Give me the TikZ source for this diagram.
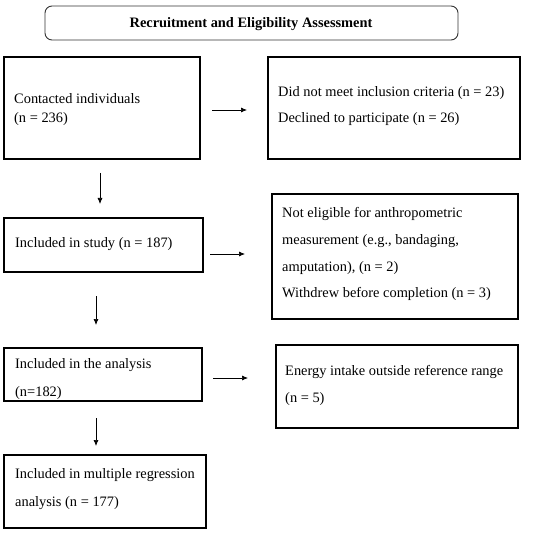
\documentclass[tikz,border=0pt]{standalone}
\usepackage{fontspec}
\setmainfont{Liberation Serif}
\usetikzlibrary{arrows.meta}
\begin{document}
\begin{tikzpicture}[x=1bp,y=-1bp,
  box/.style={draw=black,line width=1.4bp},
  txt/.style={anchor=base west,inner sep=0pt,font=\fontsize{14.4bp}{16bp}\selectfont},
  arr/.style={-{Latex[length=6bp,width=5bp]},line width=0.7bp}]
\useasboundingbox (0,0) rectangle (550,533);
% title
\draw[line width=0.9bp,draw=black!80,rounded corners=7bp] (45,6) rectangle (458,40);
\node[anchor=base,inner sep=0pt,font=\fontsize{14.4bp}{16bp}\selectfont\bfseries] (title) at (251,28) {Recruitment and Eligibility Assessment};
% boxes
\draw[box] (4,57) rectangle (200,159);
\draw[box] (268,57) rectangle (520,159);
\draw[box] (4,218) rectangle (203,272);
\draw[box] (272,194) rectangle (518,319);
\draw[box] (4,348) rectangle (202,401);
\draw[box] (276,345) rectangle (518,428);
\draw[box] (4,455) rectangle (206,528);
% texts
\node[txt] (t1a) at (14,104) {Contacted individuals};
\node[txt] (t1b) at (14,122.5) {(n = 236)};
\node[txt] (t2a) at (278,97) {Did not meet inclusion criteria (n = 23)};
\node[txt] (t2b) at (278,123) {Declined to participate (n = 26)};
\node[txt] (t3a) at (15,247) {Included in study (n = 187)};
\node[txt] (t4a) at (282,218) {Not eligible for anthropometric};
\node[txt] (t4b) at (282,244.5) {measurement (e.g., bandaging,};
\node[txt] (t4c) at (282,271) {amputation), (n = 2)};
\node[txt] (t4d) at (282,297.5) {Withdrew before completion (n = 3)};
\node[txt] (t5a) at (15,368) {Included in the analysis};
\node[txt] (t5b) at (15,396.5) {(n=182)};
\node[txt] (t6a) at (285,375) {Energy intake outside reference range};
\node[txt] (t6b) at (285,402) {(n = 5)};
\node[txt] (t7a) at (15,478) {Included in multiple regression};
\node[txt] (t7b) at (15,506) {analysis (n = 177)};
% arrows
\coordinate (h1s) at (212,110); \coordinate (h1e) at (247,110);
\coordinate (h2s) at (210,254); \coordinate (h2e) at (245,254);
\coordinate (h3s) at (213,378); \coordinate (h3e) at (248,378);
\coordinate (v1s) at (100,173); \coordinate (v1e) at (100,204);
\coordinate (v2s) at (96,296); \coordinate (v2e) at (96,325);
\coordinate (v3s) at (96,418); \coordinate (v3e) at (96,446);
\draw[arr] (h1s) -- (h1e);
\draw[arr] (h2s) -- (h2e);
\draw[arr] (h3s) -- (h3e);
\draw[arr] (v1s) -- (v1e);
\draw[arr] (v2s) -- (v2e);
\draw[arr] (v3s) -- (v3e);
\end{tikzpicture}
\end{document}
